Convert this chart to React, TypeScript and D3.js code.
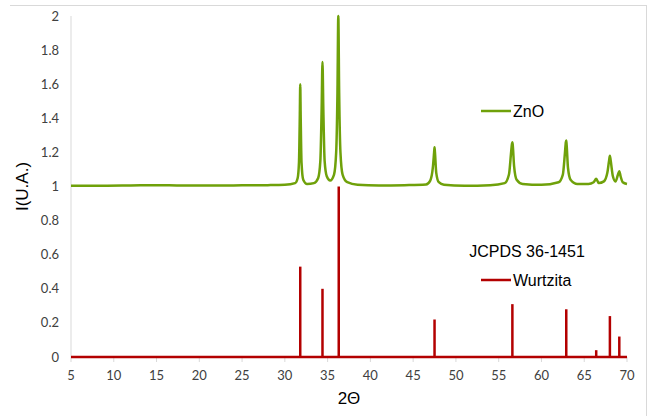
import React from "react";
import * as d3 from "d3";

const width = 649;
const height = 416;
const margin = { top: 16, right: 22, bottom: 59, left: 71 };

// measured ZnO pattern (2theta, intensity)
const znoTheta = [
  5, 8, 12, 15, 18, 22, 25, 28, 30, 31.2, 31.5, 31.65, 31.75, 31.8, 31.85, 31.95, 32.15, 32.6,
  33.4, 33.9, 34.15, 34.3, 34.4, 34.5, 34.65, 34.9, 35.3, 35.75, 36.0, 36.15, 36.25, 36.35, 36.5,
  36.75, 37.3, 38.5, 41, 44, 46.5, 47.0, 47.3, 47.45, 47.5, 47.55, 47.7, 48.0, 48.6, 51, 54,
  55.7, 56.2, 56.45, 56.55, 56.6, 56.65, 56.8, 57.1, 57.8, 60, 62.0, 62.5, 62.75, 62.85, 62.9,
  62.95, 63.1, 63.4, 64.2, 65.5, 66.1, 66.4, 66.7, 67.3, 67.7, 67.9, 68.0, 68.1, 68.35, 68.65,
  68.95, 69.1, 69.25, 69.5, 70
];
const znoIntensity = [
  1.005, 1.004, 1.006, 1.008, 1.006, 1.006, 1.007, 1.008, 1.01, 1.02, 1.05, 1.14, 1.42, 1.6, 1.42,
  1.14, 1.04, 1.015, 1.02, 1.05, 1.15, 1.45, 1.73, 1.45, 1.15, 1.06, 1.035, 1.07, 1.2, 1.55, 2.0,
  1.55, 1.2, 1.07, 1.025, 1.01, 1.006, 1.008, 1.012, 1.035, 1.11, 1.2, 1.23, 1.2, 1.08, 1.025,
  1.01, 1.005, 1.008, 1.02, 1.07, 1.2, 1.25, 1.26, 1.24, 1.12, 1.04, 1.015, 1.01, 1.025, 1.07,
  1.2, 1.26, 1.27, 1.24, 1.11, 1.04, 1.015, 1.015, 1.025, 1.045, 1.02, 1.03, 1.08, 1.15, 1.18,
  1.15, 1.06, 1.03, 1.07, 1.09, 1.06, 1.025, 1.015
];

// JCPDS 36-1451 reference lines
const refTheta = [31.8, 34.4, 36.3, 47.5, 56.6, 62.9, 66.4, 68.0, 69.1];
const refIntensity = [0.53, 0.4, 1.0, 0.22, 0.31, 0.28, 0.04, 0.24, 0.12];

const xTicks = d3.range(5, 71, 5);
const yTicks = d3.range(0, 2.01, 0.2);

const green = "#6fa10a";
const red = "#b30000";

export default function App() {
  const x = d3.scaleLinear().domain([5, 70]).range([margin.left, width - margin.right - 0]);
  const y = d3.scaleLinear().domain([0, 2]).range([height - margin.bottom, margin.top]);

  const pts = znoTheta.map((t, i) => [t, znoIntensity[i]] as [number, number]);
  const line = d3
    .line<[number, number]>()
    .x(d => x(d[0]))
    .y(d => y(d[1]))
    .curve(d3.curveMonotoneX);

  const y0 = y(0);

  return (
    <div style={{ position: "absolute", left: 0, top: 0 }}>
      <svg width={width} height={height} style={{ display: "block" }}>
        <rect x={0} y={0} width={width} height={height} fill="#fff" />
        {/* chart frame */}
        <line x1={10} x2={647} y1={5.5} y2={5.5} stroke="#d9d9d9" />
        <line x1={646.5} x2={646.5} y1={5} y2={height} stroke="#d9d9d9" />

        {/* axes */}
        <line x1={x(5)} x2={x(5)} y1={y(2)} y2={y0} stroke="#d9d9d9" />
        <line x1={x(5)} x2={x(70)} y1={y0} y2={y0} stroke="#d9d9d9" />
        {xTicks.map(t => (
          <g key={t}>
            <line x1={x(t)} x2={x(t)} y1={y0} y2={y0 + 5} stroke="#d9d9d9" />
            <text
              x={x(t)}
              y={y0 + 23}
              textAnchor="middle"
              fontFamily="Lato, sans-serif"
              fontSize={13}
              fill="#404040"
            >
              {t}
            </text>
          </g>
        ))}
        {yTicks.map(t => (
          <text
            key={t}
            x={x(5) - 12}
            y={y(t) + 4.5}
            textAnchor="end"
            fontFamily="Lato, sans-serif"
            fontSize={13}
            fill="#404040"
          >
            {d3.format("~g")(+t.toFixed(1))}
          </text>
        ))}

        {/* reference lines */}
        <line x1={x(5)} x2={x(70)} y1={y0} y2={y0} stroke={red} strokeWidth={2.5} />
        {refTheta.map((t, i) => (
          <line
            key={t}
            x1={x(t)}
            x2={x(t)}
            y1={y0}
            y2={y(refIntensity[i])}
            stroke={red}
            strokeWidth={2.5}
          />
        ))}

        {/* measured pattern */}
        <path d={line(pts) || ""} fill="none" stroke={green} strokeWidth={2.5} strokeLinejoin="round" />

        {/* axis titles */}
        <text
          x={(x(5) + x(70)) / 2}
          y={404}
          textAnchor="middle"
          fontFamily="Liberation Sans, Arial, sans-serif"
          fontSize={17}
          fill="#000"
        >
          2Θ
        </text>
        <text
          transform={`translate(28, ${y(1)}) rotate(-90)`}
          textAnchor="middle"
          fontFamily="Liberation Sans, Arial, sans-serif"
          fontSize={17}
          fill="#000"
        >
          I(U.A.)
        </text>

        {/* legends */}
        <line x1={481} x2={511} y1={111} y2={111} stroke={green} strokeWidth={2.5} />
        <text x={513} y={117} fontFamily="Liberation Sans, Arial, sans-serif" fontSize={16} fill="#000">
          ZnO
        </text>
        <text
          x={527}
          y={257}
          textAnchor="middle"
          fontFamily="Liberation Sans, Arial, sans-serif"
          fontSize={16}
          fill="#000"
        >
          JCPDS 36-1451
        </text>
        <line x1={481} x2={511} y1={280} y2={280} stroke={red} strokeWidth={2.5} />
        <text x={513} y={286} fontFamily="Liberation Sans, Arial, sans-serif" fontSize={16} fill="#000">
          Wurtzita
        </text>
      </svg>
    </div>
  );
}
